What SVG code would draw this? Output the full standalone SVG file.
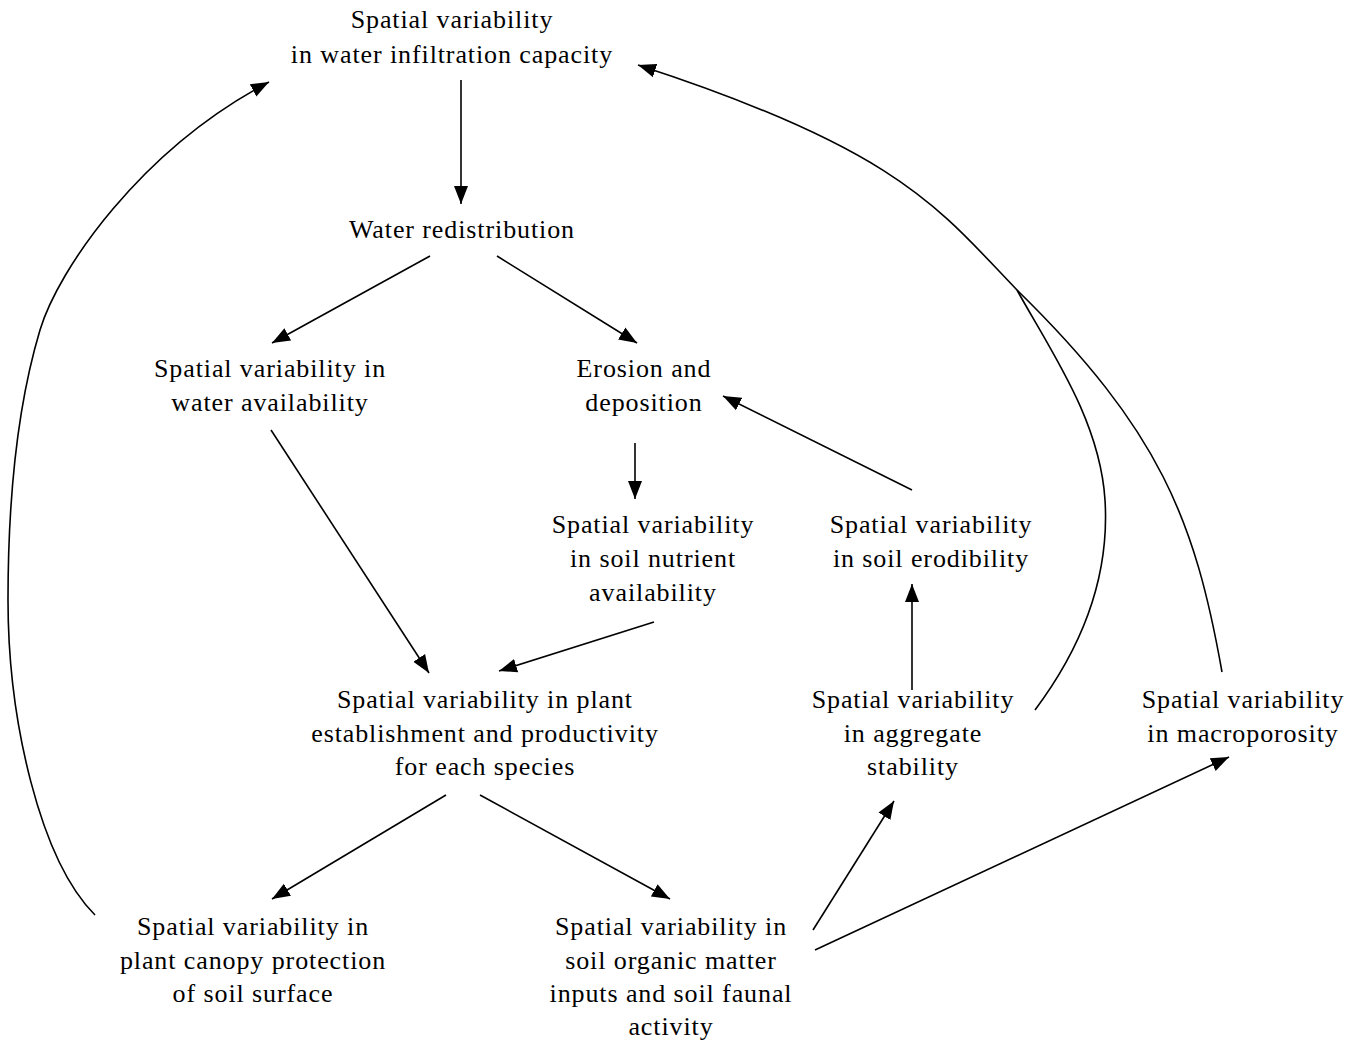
<svg xmlns="http://www.w3.org/2000/svg" width="1354" height="1042" viewBox="0 0 1354 1042">
<defs>
<style>
text{font-family:"Liberation Serif","Times New Roman",serif;font-size:26px;letter-spacing:0.9px;fill:#000;text-anchor:middle}
.c{fill:none;stroke:#000;stroke-width:1.6}
</style>
<marker id="ah" markerUnits="userSpaceOnUse" markerWidth="20" markerHeight="16" refX="18" refY="7" orient="auto" viewBox="0 0 20 14">
<path d="M0,0 L18,7 L0,14 Z" fill="#000"/>
</marker>
</defs>
<rect width="1354" height="1042" fill="#fff"/>
<g id="n1"><text x="452" y="28">Spatial variability</text><text x="452" y="63">in water infiltration capacity</text></g>
<g id="n2"><text x="462" y="238">Water redistribution</text></g>
<g id="n3"><text x="270" y="377">Spatial variability in</text><text x="270" y="411">water availability</text></g>
<g id="n4"><text x="644" y="377">Erosion and</text><text x="644" y="411">deposition</text></g>
<g id="n5"><text x="653" y="533">Spatial variability</text><text x="653" y="567">in soil nutrient</text><text x="653" y="601">availability</text></g>
<g id="n6"><text x="931" y="533">Spatial variability</text><text x="931" y="567">in soil erodibility</text></g>
<g id="n7"><text x="485" y="708">Spatial variability in plant</text><text x="485" y="742">establishment and productivity</text><text x="485" y="775">for each species</text></g>
<g id="n8"><text x="913" y="708">Spatial variability</text><text x="913" y="742">in aggregate</text><text x="913" y="775">stability</text></g>
<g id="n9"><text x="1243" y="708">Spatial variability</text><text x="1243" y="742">in macroporosity</text></g>
<g id="n10"><text x="253" y="935">Spatial variability in</text><text x="253" y="969">plant canopy protection</text><text x="253" y="1002">of soil surface</text></g>
<g id="n11"><text x="671" y="935">Spatial variability in</text><text x="671" y="969">soil organic matter</text><text x="671" y="1002">inputs and soil faunal</text><text x="671" y="1035">activity</text></g>
<g id="connectors">
<path class="c" marker-end="url(#ah)" d="M461,80 L461,204"/>
<path class="c" marker-end="url(#ah)" d="M430,256 L272,343"/>
<path class="c" marker-end="url(#ah)" d="M497,256 L637,343"/>
<path class="c" marker-end="url(#ah)" d="M635,443 L635,499"/>
<path class="c" marker-end="url(#ah)" d="M912,490 L723,396"/>
<path class="c" marker-end="url(#ah)" d="M271,430 L429,673"/>
<path class="c" marker-end="url(#ah)" d="M654,622 L499,671"/>
<path class="c" marker-end="url(#ah)" d="M912,690 L912,584"/>
<path class="c" marker-end="url(#ah)" d="M446,795 L272,899"/>
<path class="c" marker-end="url(#ah)" d="M480,795 L670,899"/>
<path class="c" marker-end="url(#ah)" d="M813,930 L894,801"/>
<path class="c" marker-end="url(#ah)" d="M815,950 L1229,757"/>
<path class="c" marker-end="url(#ah)" d="M95,915 C40,860 8,720 8,600 C8,480 22,390 40,330 C58,270 140,150 269,82"/>
<path class="c" d="M1035,710 C1080,650 1110,580 1105,500 C1100,420 1050,350 1017,290"/>
<path class="c" d="M1222,672 C1195,520 1160,430 1017,290"/>
<path class="c" marker-end="url(#ah)" d="M1017,290 C940,210 900,150 638,65"/>
</g>
</svg>
